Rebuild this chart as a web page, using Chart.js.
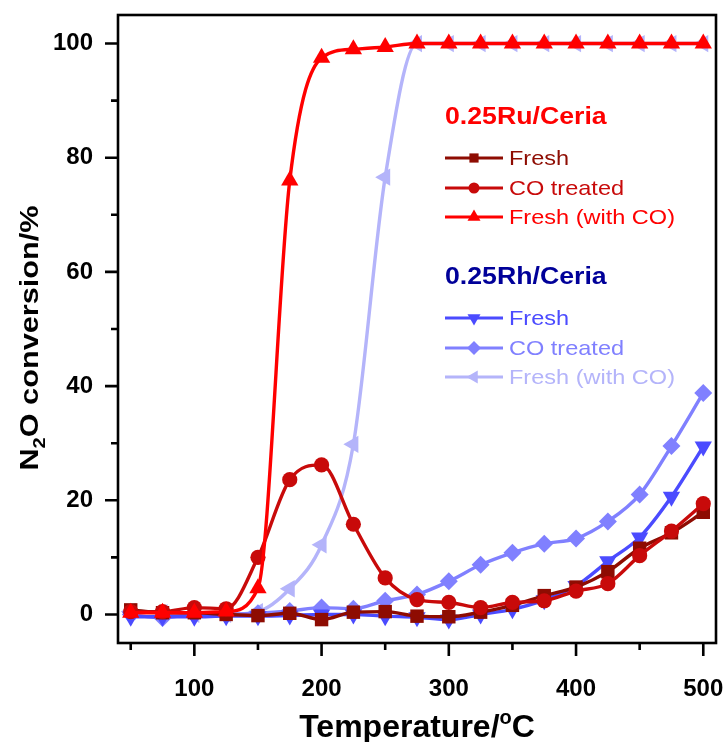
<!DOCTYPE html>
<html>
<head>
<meta charset="utf-8">
<script src="https://cdn.jsdelivr.net/npm/chart.js@4.4.1/dist/chart.umd.min.js"></script>
<style>
html,body{margin:0;padding:0;background:#fff;}
#wrap{width:727px;height:742px;position:relative;}
</style>
</head>
<body>
<div id="wrap"><canvas id="c" width="727" height="742"></canvas></div>
<script>
// ---- data ----
const temperatures = [50,75,100,125,150,175,200,225,250,275,300,325,350,375,400,425,450,475,500];
const ruFresh       = [0.8,0.3,0.3,0.0,-0.2,0.2,-0.9,0.4,0.5,-0.3,-0.4,0.4,1.6,3.3,4.8,7.5,11.6,14.3,17.9];
const ruCOTreated   = [0.5,0.5,1.2,1.0,10,23.6,26.2,15.8,6.4,2.6,2.1,1.2,2.1,2.4,4.1,5.4,10.3,14.6,19.4];
const ruFreshWithCO = [0.3,0.3,0.3,0.5,4.6,76,97.5,99,99.4,100,100,100,100,100,100,100,100,100,100];
const rhFresh       = [-0.4,-0.4,-0.4,-0.3,-0.3,-0.2,0,0,-0.3,-0.5,-0.9,0,0.9,2.5,5,9.3,13.5,20.6,29.4];
const rhCOTreated   = [0,-0.6,0,0,0.2,0.6,1.2,1.0,2.4,3.5,5.8,8.7,10.8,12.4,13.3,16.3,21,29.5,38.8];
const rhFreshWithCO = [0.5,0.3,0,0,0.5,4.5,12.2,29.8,76.6,100,100,100,100,100,100,100,100,100,100];
const xTickValues = [100,200,300,400,500];
const xMinorValues = [50,150,250,350,450];
const yTickValues = [0,20,40,60,80,100];
const yMinorValues = [10,30,50,70,90];
const groupTitles = ['0.25Ru/Ceria','0.25Rh/Ceria'];
const seriesNames = ['Fresh','CO treated','Fresh (with CO)'];

const FONT = '"Liberation Sans", Arial, sans-serif';
const toXY = arr => arr.map((v,i)=>({x:temperatures[i], y:v}));

const styles = {
  ruFresh:   {color:'#8E0C02', pointStyle:'rect', radius:9.5, legendRadius:6.5, rotation:0},
  ruCO:      {color:'#C80A0A', pointStyle:'circle', radius:7.6, legendRadius:5.5, rotation:0},
  ruWithCO:  {color:'#FF0000', pointStyle:'triangle', radius:10, legendRadius:7.5, rotation:0},
  rhFresh:   {color:'#4B4BFF', pointStyle:'triangle', radius:10, legendRadius:7.5, rotation:180},
  rhCO:      {color:'#8080FF', pointStyle:'rectRot', radius:9, legendRadius:7, rotation:0},
  rhWithCO:  {color:'#B4B4FA', pointStyle:'triangle', radius:10, legendRadius:7.5, rotation:-90}
};
function ds(label, data, st){
  return {
    label, data: toXY(data),
    borderColor: st.color, backgroundColor: st.color,
    pointBackgroundColor: st.color, pointBorderColor: st.color,
    pointStyle: st.pointStyle, pointRadius: st.radius, pointRotation: st.rotation,
    pointBorderWidth: 0, borderWidth: 3.4,
    cubicInterpolationMode: 'monotone', tension: 0.4, fill:false
  };
}

const datasets = [
  ds('Ru Fresh (with CO)', ruFreshWithCO, styles.ruWithCO),
  ds('Ru CO treated', ruCOTreated, styles.ruCO),
  ds('Ru Fresh', ruFresh, styles.ruFresh),
  ds('Rh Fresh', rhFresh, styles.rhFresh),
  ds('Rh CO treated', rhCOTreated, styles.rhCO),
  ds('Rh Fresh (with CO)', rhFreshWithCO, styles.rhWithCO)
];

function drawStretchedText(ctx, text, x, y, sx){
  ctx.save(); ctx.translate(x,y); ctx.scale(sx,1); ctx.fillText(text,0,0); ctx.restore();
}

const decor = {
  id:'decor',
  afterDraw(chart){
    const ctx = chart.ctx, a = chart.chartArea;
    const xs = chart.scales.x, ys = chart.scales.y;
    ctx.save();
    ctx.strokeStyle = '#000'; ctx.lineWidth = 2.6; ctx.lineCap='butt';
    ctx.strokeRect(a.left, a.top, a.right-a.left, a.bottom-a.top);
    // ticks
    ctx.beginPath();
    xTickValues.forEach(v=>{const p=xs.getPixelForValue(v); ctx.moveTo(p,a.bottom); ctx.lineTo(p,a.bottom+13);});
    xMinorValues.forEach(v=>{const p=xs.getPixelForValue(v); ctx.moveTo(p,a.bottom); ctx.lineTo(p,a.bottom+7);});
    yTickValues.forEach(v=>{const p=ys.getPixelForValue(v); ctx.moveTo(a.left,p); ctx.lineTo(a.left-13,p);});
    yMinorValues.forEach(v=>{const p=ys.getPixelForValue(v); ctx.moveTo(a.left,p); ctx.lineTo(a.left-7,p);});
    ctx.stroke();

    // x title
    ctx.fillStyle = '#000'; ctx.textBaseline='alphabetic'; ctx.textAlign='left';
    const bigX = 'bold 32px '+FONT, supX = 'bold 20px '+FONT;
    ctx.font = bigX; const w1 = ctx.measureText('Temperature/').width; const w3 = ctx.measureText('C').width;
    ctx.font = supX; const w2 = ctx.measureText('o').width;
    let sx0 = 417 - (w1+w2+w3)/2, by = 737;
    ctx.font = bigX; ctx.fillText('Temperature/', sx0, by);
    ctx.font = supX; ctx.fillText('o', sx0+w1, by-13);
    ctx.font = bigX; ctx.fillText('C', sx0+w1+w2, by);

    // y title (stretched along its length)
    ctx.save();
    ctx.translate(38, 338); ctx.rotate(-Math.PI/2); ctx.scale(1.18,1);
    const bigY = 'bold 26px '+FONT, subY = 'bold 17px '+FONT;
    ctx.font = bigY; const n1 = ctx.measureText('N').width, n3 = ctx.measureText('O conversion/%').width;
    ctx.font = subY; const n2 = ctx.measureText('2').width;
    let sy0 = -(n1+n2+n3)/2;
    ctx.font = bigY; ctx.fillText('N', sy0, 0);
    ctx.font = subY; ctx.fillText('2', sy0+n1, 7);
    ctx.font = bigY; ctx.fillText('O conversion/%', sy0+n1+n2, 0);
    ctx.restore();

    // legend
    const groups = [
      {title: groupTitles[0], titleColor:'#FF0000', ty:118, items:[
        {st:styles.ruFresh, y:158, name:seriesNames[0]},
        {st:styles.ruCO, y:188, name:seriesNames[1]},
        {st:styles.ruWithCO, y:217, name:seriesNames[2]}]},
      {title: groupTitles[1], titleColor:'#000099', ty:278, items:[
        {st:styles.rhFresh, y:318, name:seriesNames[0]},
        {st:styles.rhCO, y:348, name:seriesNames[1]},
        {st:styles.rhWithCO, y:377, name:seriesNames[2]}]}
    ];
    groups.forEach(g=>{
      ctx.font = 'bold 23px '+FONT; ctx.fillStyle = g.titleColor; ctx.textBaseline='middle';
      drawStretchedText(ctx, g.title, 445, g.ty, 1.16);
      g.items.forEach(it=>{
        ctx.strokeStyle = it.st.color; ctx.lineWidth = 3.2;
        ctx.beginPath(); ctx.moveTo(445, it.y); ctx.lineTo(503, it.y); ctx.stroke();
        ctx.fillStyle = it.st.color;
        Chart.helpers.drawPoint(ctx, {pointStyle: it.st.pointStyle, radius: it.st.legendRadius, rotation: it.st.rotation, borderWidth:0}, 474, it.y);
        ctx.fillStyle = it.st.color; ctx.font = '21px '+FONT; ctx.textBaseline='middle';
        drawStretchedText(ctx, it.name, 509, it.y+1, 1.12);
      });
    });
    ctx.restore();
  }
};

new Chart(document.getElementById('c'), {
  type:'line',
  data:{datasets},
  options:{
    responsive:false, animation:false, devicePixelRatio:1,
    layout:{padding:{top:15, right:11, left:0, bottom:0}},
    plugins:{legend:{display:false}, tooltip:{enabled:false}},
    elements:{line:{borderCapStyle:'round', borderJoinStyle:'round'}},
    scales:{
      x:{type:'linear', min:40, max:510,
        afterBuildTicks: s => { s.ticks = xTickValues.map(v=>({value:v})); },
        afterFit: s => { s.height = 99; s.paddingLeft = 0; s.paddingRight = 0; },
        grid:{display:false, drawTicks:false}, border:{display:false},
        ticks:{padding:32, color:'#000', font:{family:FONT, size:24, weight:'bold'}, maxRotation:0, autoSkip:false}
      },
      y:{type:'linear', min:-5, max:105,
        afterBuildTicks: s => { s.ticks = yTickValues.map(v=>({value:v})); },
        afterFit: s => { s.width = 118; s.paddingTop = 0; s.paddingBottom = 0; },
        grid:{display:false, drawTicks:false}, border:{display:false},
        ticks:{padding:25, color:'#000', font:{family:FONT, size:24, weight:'bold'}, autoSkip:false}
      }
    }
  },
  plugins:[decor]
});
</script>
</body>
</html>
